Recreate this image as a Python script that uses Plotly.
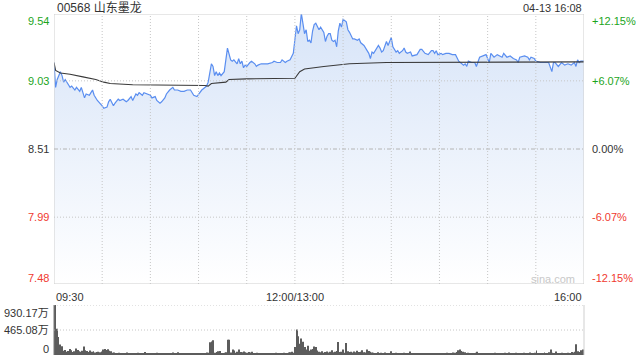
import plotly.graph_objects as go

# ---------------- data ----------------
title_text = "00568 山东墨龙"
stamp_text = "04-13 16:08"
pre_close = 8.51
price_ticks = [9.54, 9.03, 8.51, 7.99, 7.48]
pct_ticks = ["+12.15%", "+6.07%", "0.00%", "-6.07%", "-12.15%"]
time_ticks = ["09:30", "12:00/13:00", "16:00"]
time_tick_pos = [0, 150, 330]
vol_tick_text = ["930.17万", "465.08万", "0"]
vol_tick_vals = [930.17, 465.08, 0]
watermark = "sina.com"

# trading minute since 09:30 (lunch break skipped) and price
price_min = [0, 1, 2, 4, 5, 6, 7, 9, 10, 11, 13, 14, 16, 17, 18, 19, 20, 22, 23, 24,
             25, 27, 30, 31, 33, 34, 35, 37, 38, 40, 41, 43, 45, 46, 48, 49, 51, 52, 53, 55,
             56, 58, 60, 61, 63, 64, 66, 67, 69, 70, 72, 74, 75, 77, 79, 81, 83, 85, 87, 89,
             90, 92, 93, 95, 96, 98, 99, 100, 101, 102, 103, 104, 106, 107, 108, 110, 111, 112, 114, 115,
             116, 117, 118, 119, 120, 122, 123, 125, 126, 127, 129, 131, 133, 136, 137, 139, 141, 142, 144, 145,
             147, 149, 150, 151, 152, 153, 154, 155, 156, 157, 158, 159, 160, 161, 162, 163, 165, 166, 168, 169,
             170, 171, 172, 173, 174, 175, 176, 177, 178, 179, 180, 182, 183, 184, 186, 187, 189, 190, 191, 193,
             194, 196, 197, 198, 199, 200, 202, 203, 204, 205, 207, 208, 209, 210, 211, 212, 213, 214, 215, 217,
             218, 219, 220, 222, 223, 226, 228, 229, 231, 233, 235, 236, 237, 238, 239, 241, 242, 244, 246, 248,
             250, 252, 255, 256, 257, 258, 260, 262, 263, 265, 267, 269, 270, 271, 272, 274, 276, 279, 280, 282,
             284, 286, 288, 289, 290, 293, 295, 296, 297, 299, 300, 303, 308, 309, 310, 311, 312, 314, 316, 318,
             320, 322, 324, 325, 326, 327, 328, 330]
price_val = [9.17, 8.98, 9.04, 9.10, 9.07, 9.02, 9.04, 9.00, 8.98, 8.99, 8.96, 8.98, 8.95, 8.98, 8.94, 8.90, 8.93, 8.92, 8.94, 8.96,
             8.92, 8.88, 8.84, 8.82, 8.83, 8.87, 8.89, 8.84, 8.86, 8.89, 8.88, 8.89, 8.87, 8.88, 8.91, 8.88, 8.93, 8.92, 8.94, 8.92,
             8.94, 8.93, 8.92, 8.90, 8.91, 8.88, 8.86, 8.87, 8.90, 8.93, 8.96, 8.98, 8.96, 8.96, 8.95, 8.95, 8.96, 8.96, 8.92, 8.91,
             8.93, 8.96, 8.97, 8.99, 9.02, 9.16, 9.14, 9.07, 9.10, 9.07, 9.09, 9.07, 9.10, 9.19, 9.28, 9.19, 9.18, 9.19, 9.16, 9.20,
             9.16, 9.18, 9.13, 9.15, 9.14, 9.17, 9.18, 9.16, 9.14, 9.15, 9.16, 9.16, 9.16, 9.17, 9.18, 9.17, 9.17, 9.19, 9.17, 9.18,
             9.19, 9.24, 9.37, 9.45, 9.39, 9.42, 9.545, 9.46, 9.39, 9.42, 9.33, 9.34, 9.32, 9.41, 9.46, 9.47, 9.42, 9.44, 9.40, 9.33,
             9.37, 9.39, 9.39, 9.34, 9.33, 9.34, 9.29, 9.41, 9.47, 9.44, 9.50, 9.48, 9.42, 9.40, 9.35, 9.35, 9.34, 9.35, 9.32, 9.30,
             9.28, 9.24, 9.20, 9.25, 9.24, 9.26, 9.30, 9.28, 9.25, 9.26, 9.33, 9.30, 9.33, 9.36, 9.29, 9.27, 9.25, 9.26, 9.24, 9.26,
             9.28, 9.25, 9.24, 9.25, 9.22, 9.23, 9.27, 9.27, 9.24, 9.23, 9.26, 9.26, 9.24, 9.26, 9.23, 9.24, 9.23, 9.24, 9.24, 9.23,
             9.23, 9.18, 9.15, 9.16, 9.14, 9.18, 9.17, 9.17, 9.14, 9.21, 9.22, 9.23, 9.20, 9.17, 9.24, 9.21, 9.23, 9.21, 9.24, 9.21,
             9.22, 9.20, 9.19, 9.17, 9.21, 9.22, 9.21, 9.19, 9.21, 9.20, 9.18, 9.17, 9.17, 9.14, 9.10, 9.17, 9.17, 9.14, 9.17, 9.15,
             9.16, 9.15, 9.17, 9.14, 9.19, 9.17, 9.18, 9.18]

# average price line
avg_min = [0, 1, 4, 10, 18, 26, 31, 35, 49, 70, 84, 94, 96, 98, 107, 109, 120, 150, 153, 156, 168, 178, 184, 207, 330]
avg_val = [9.17, 9.11, 9.09, 9.08, 9.06, 9.04, 9.02, 9.01, 9.00, 9.00, 8.995, 8.995, 8.99, 9.01, 9.02, 9.04, 9.045,
           9.05, 9.10, 9.12, 9.14, 9.15, 9.16, 9.17, 9.175]

# volume per minute (万股), minutes 0..330
volume = [930, 490, 335, 196, 165, 80, 95, 60, 75, 110,
          90, 55, 70, 120, 95, 70, 60, 80, 160, 90,
          75, 55, 85, 60, 70, 45, 55, 60, 50, 65,
          100, 110, 95, 105, 80, 70, 40, 45, 35, 30,
          40, 25, 35, 20, 30, 45, 25, 35, 30, 20,
          35, 25, 40, 30, 20, 35, 55, 25, 30, 20,
          30, 25, 35, 20, 40, 25, 30, 20, 25, 35,
          20, 30, 25, 20, 45, 30, 25, 50, 20, 30,
          25, 20, 30, 25, 20, 35, 25, 20, 30, 25,
          20, 30, 25, 35, 30, 45, 40, 235, 250, 275,
          40, 55, 70, 75, 30, 25, 40, 50, 285, 285,
          45, 100, 85, 40, 60, 100, 55, 50, 65, 50,
          40, 55, 45, 60, 35, 30, 40, 25, 35, 30,
          25, 35, 20, 30, 25, 35, 30, 25, 40, 30,
          25, 35, 30, 40, 25, 30, 45, 50, 60, 40,
          150, 475, 350, 210, 305, 245, 150, 100, 170, 80,
          100, 110, 160, 150, 85, 60, 50, 70, 40, 55,
          65, 45, 60, 90, 50, 60, 75, 240, 55, 60,
          100, 40, 225, 70, 55, 60, 45, 65, 50, 80,
          55, 60, 90, 50, 45, 100, 75, 60, 45, 40,
          35, 30, 50, 25, 40, 30, 45, 25, 35, 30,
          70, 30, 25, 40, 30, 35, 25, 30, 40, 25,
          30, 35, 65, 25, 30, 20, 35, 25, 30, 20,
          25, 30, 20, 35, 25, 30, 20, 25, 35, 30,
          25, 20, 30, 25, 35, 40, 30, 25, 35, 45,
          40, 55, 90, 100, 75, 60, 50, 35, 40, 30,
          25, 35, 30, 40, 60, 30, 25, 35, 30, 25,
          30, 20, 35, 25, 30, 40, 25, 30, 20, 35,
          25, 40, 30, 25, 45, 30, 35, 25, 40, 30,
          25, 35, 30, 40, 25, 35, 30, 45, 25, 30,
          40, 85, 30, 25, 35, 30, 45, 25, 35, 50,
          100, 40, 30, 65, 35, 30, 25, 40, 30, 35,
          30, 40, 35, 55, 45, 60, 200, 70, 55, 90,
          100]
vol_min = list(range(len(volume)))

# ---------------- style / layout ----------------
W, H = 640, 360
L, R, T, B = 54, 56, 14, 5
FONT = "Liberation Sans, Arial, Noto Sans CJK SC, sans-serif"
GREEN = "#1ca51c"
RED = "#f03a2f"
DARK = "#333333"
GRID = "#c6c6c6"
DOT = "1px,2px"


def px_x(px):
    return (px - L) / (W - L - R)


def px_y(py):
    return (H - B - py) / (H - T - B)


main_dom = [px_y(284), 1.0]
vol_dom = [0.0, px_y(305)]
x_max = time_tick_pos[-1]
p_lo, p_hi = price_ticks[-1], price_ticks[0]

fig = go.Figure()

# baseline for the filled area
fig.add_trace(go.Scatter(x=[0, x_max], y=[p_lo, p_lo], mode="lines",
                         line=dict(width=0, color="rgba(0,0,0,0)"),
                         hoverinfo="skip", showlegend=False, xaxis="x", yaxis="y"))
fig.add_trace(go.Scatter(x=price_min, y=price_val, mode="lines",
                         line=dict(color="#5a8ef0", width=1.2),
                         fill="tonexty",
                         fillgradient=dict(type="vertical",
                                           colorscale=[[0, "#ffffff"], [1, "#d7e4f8"]],
                                           start=p_lo, stop=p_hi),
                         showlegend=False, xaxis="x", yaxis="y"))
fig.add_trace(go.Scatter(x=avg_min, y=avg_val, mode="lines",
                         line=dict(color="#3a3a3a", width=1.1),
                         showlegend=False, xaxis="x", yaxis="y"))
fig.add_trace(go.Bar(x=vol_min, y=volume, marker=dict(color="#5c5c5c", line=dict(width=0)),
                     showlegend=False, xaxis="x2", yaxis="y2"))

shapes = []
# main border
shapes.append(dict(type="rect", xref="x", yref="y", x0=0, x1=x_max, y0=p_lo, y1=p_hi,
                   line=dict(color="#cfcfcf", width=1), layer="above"))
# horizontal grid
for v in price_ticks[1:-1]:
    if v == pre_close:
        shapes.append(dict(type="line", xref="x", yref="y", x0=0, x1=x_max, y0=v, y1=v,
                           line=dict(color="#b4b4b4", width=1, dash="4px,2px,1px,2px"), layer="above"))
    else:
        shapes.append(dict(type="line", xref="x", yref="y", x0=0, x1=x_max, y0=v, y1=v,
                           line=dict(color=GRID, width=1, dash=DOT), layer="above"))
# vertical grid every 30 minutes
for m in range(30, x_max, 30):
    shapes.append(dict(type="line", xref="x", yref="y", x0=m, x1=m, y0=p_lo, y1=p_hi,
                       line=dict(color=GRID, width=1, dash=DOT), layer="above"))
# volume panel
for v in vol_tick_vals[:2]:
    shapes.append(dict(type="line", xref="paper", yref="y2", x0=0, x1=1, y0=v, y1=v,
                       line=dict(color=GRID, width=1, dash=DOT), layer="above"))
shapes.append(dict(type="line", xref="paper", yref="y2", x0=0, x1=0, y0=0, y1=vol_tick_vals[0],
                   line=dict(color="#777777", width=1), layer="above"))
shapes.append(dict(type="line", xref="paper", yref="y2", x0=1, x1=1, y0=0, y1=vol_tick_vals[0],
                   line=dict(color="#cfcfcf", width=1), layer="above"))

ann = []
ann.append(dict(text=title_text, x=px_x(55), y=px_y(8), xref="paper", yref="paper",
                xanchor="left", yanchor="middle", showarrow=False,
                font=dict(size=12, color=DARK, family=FONT)))
ann.append(dict(text=stamp_text, x=px_x(584), y=px_y(8), xref="paper", yref="paper",
                xanchor="right", yanchor="middle", showarrow=False,
                font=dict(size=11, color=DARK, family=FONT)))
n = len(price_ticks)
for i, (v, pt) in enumerate(zip(price_ticks, pct_ticks)):
    col = GREEN if v > pre_close else (RED if v < pre_close else DARK)
    shift = -6.5 if i == 0 else (6.5 if i == n - 1 else 0)
    ann.append(dict(text=f"{v:.2f}", x=px_x(51), y=v, xref="paper", yref="y",
                    xanchor="right", yanchor="middle", yshift=shift, showarrow=False,
                    font=dict(size=11, color=col, family=FONT)))
    ann.append(dict(text=pt, x=px_x(590), y=v, xref="paper", yref="y",
                    xanchor="left", yanchor="middle", yshift=shift, showarrow=False,
                    font=dict(size=11, color=col, family=FONT)))
anchors = ["left", "center", "right"]
for t, p, a in zip(time_ticks, time_tick_pos, anchors):
    ann.append(dict(text=t, x=p, y=px_y(297), xref="x", yref="paper",
                    xanchor=a, yanchor="middle", showarrow=False,
                    font=dict(size=11, color=DARK, family=FONT)))
vol_label_py = [312.7, 329.7, 349]
for t, py in zip(vol_tick_text, vol_label_py):
    ann.append(dict(text=t, x=px_x(51), y=px_y(py), xref="paper", yref="paper",
                    xanchor="right", yanchor="middle", showarrow=False,
                    font=dict(size=11, color=DARK, family=FONT)))
ann.append(dict(text=watermark, x=px_x(553), y=px_y(279), xref="paper", yref="paper",
                xanchor="center", yanchor="middle", showarrow=False,
                font=dict(size=11, color="#c8c8c8", family=FONT)))

axis_common = dict(showgrid=False, zeroline=False, showticklabels=False, ticks="",
                   showline=False, fixedrange=True)
fig.update_layout(
    width=W, height=H,
    margin=dict(l=L, r=R, t=T, b=B, pad=0),
    paper_bgcolor="white", plot_bgcolor="white",
    showlegend=False, bargap=0.38,
    xaxis=dict(range=[0, x_max], domain=[0, 1], anchor="y", **axis_common),
    yaxis=dict(range=[p_lo, p_hi], domain=main_dom, anchor="x", **axis_common),
    xaxis2=dict(range=[-0.7, x_max + 0.7], domain=[0, 1], anchor="y2", **axis_common),
    yaxis2=dict(range=[0, vol_tick_vals[0]], domain=vol_dom, anchor="x2", **axis_common),
    shapes=shapes, annotations=ann,
    font=dict(family=FONT, color=DARK),
)

fig.write_html("out.html")
